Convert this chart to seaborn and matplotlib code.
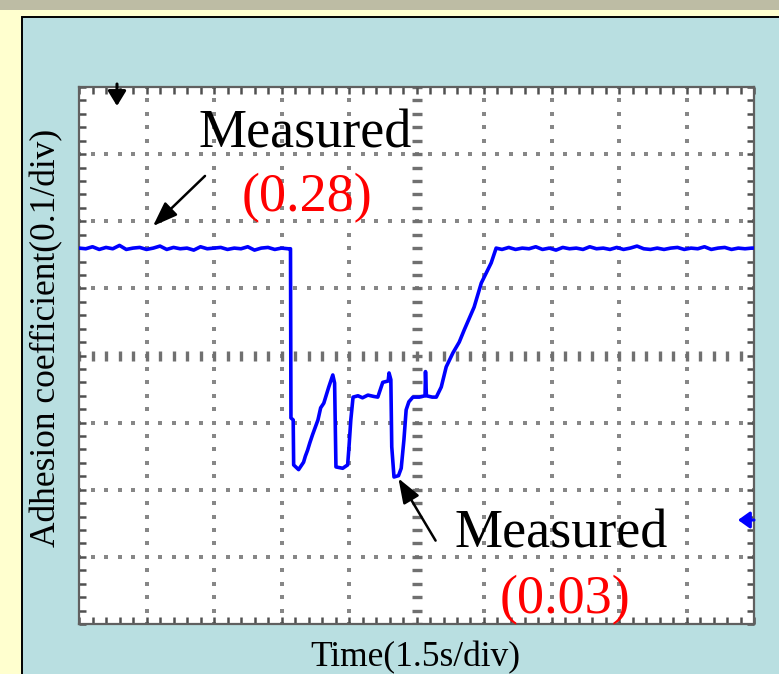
import numpy as np
import pandas as pd
import matplotlib
matplotlib.use("Agg")
import matplotlib.pyplot as plt
from matplotlib.patches import Rectangle
import seaborn as sns

# ---------------- data ----------------
time_s = [
    0.00, 0.15, 0.30, 0.45, 0.60, 0.75, 0.90, 1.05, 1.20, 1.35, 1.50, 1.65,
    1.80, 1.95, 2.10, 2.25, 2.40, 2.55, 2.70, 2.85, 3.00, 3.15, 3.30, 3.45,
    3.60, 3.75, 3.90, 4.05, 4.20, 4.35, 4.50, 4.65,
    4.70, 4.71, 4.76, 4.77, 4.88, 4.99, 5.03, 5.08, 5.13, 5.19, 5.25, 5.31,
    5.37, 5.44, 5.50, 5.55, 5.64, 5.68, 5.71, 5.86, 5.97, 6.00, 6.04, 6.09,
    6.20, 6.30, 6.42, 6.55, 6.64, 6.70, 6.75, 6.87, 6.89, 6.93, 6.95, 7.00,
    7.10, 7.16, 7.22, 7.27, 7.33, 7.42, 7.56, 7.69, 7.70, 7.72, 7.85, 7.94,
    8.05, 8.16, 8.31, 8.45, 8.56, 8.67, 8.78, 8.94, 9.05, 9.16, 9.27,
    9.40, 9.55, 9.70, 9.85, 10.00, 10.15, 10.30, 10.45, 10.60, 10.75, 10.90,
    11.05, 11.20, 11.35, 11.50, 11.65, 11.80, 11.95, 12.10, 12.25, 12.40,
    12.55, 12.70, 12.85, 13.00, 13.15, 13.30, 13.45, 13.60, 13.75, 13.90,
    14.05, 14.20, 14.35, 14.50, 14.65, 14.80, 14.95, 15.00,
]
adhesion = [
    0.560, 0.559, 0.562, 0.558, 0.561, 0.559, 0.564, 0.558, 0.560, 0.561, 0.558, 0.560,
    0.563, 0.558, 0.561, 0.559, 0.560, 0.557, 0.562, 0.559, 0.560, 0.561, 0.558, 0.560,
    0.559, 0.562, 0.557, 0.560, 0.561, 0.558, 0.560, 0.559,
    0.559, 0.307, 0.304, 0.237, 0.230, 0.241, 0.250, 0.259, 0.270, 0.282, 0.293, 0.304,
    0.322, 0.329, 0.342, 0.353, 0.371, 0.359, 0.234, 0.232, 0.237, 0.264, 0.304, 0.338,
    0.340, 0.337, 0.341, 0.339, 0.338, 0.350, 0.360, 0.362, 0.374, 0.364, 0.264, 0.219,
    0.221, 0.232, 0.274, 0.319, 0.331, 0.338, 0.338, 0.340, 0.376, 0.340, 0.338, 0.338,
    0.353, 0.383, 0.404, 0.420, 0.438, 0.455, 0.472, 0.508, 0.523, 0.538, 0.560,
    0.558, 0.561, 0.558, 0.560, 0.559, 0.562, 0.558, 0.560, 0.557, 0.561, 0.559,
    0.560, 0.558, 0.562, 0.559, 0.560, 0.558, 0.561, 0.558, 0.560, 0.563,
    0.559, 0.558, 0.560, 0.558, 0.560, 0.561, 0.558, 0.560, 0.559, 0.562,
    0.558, 0.560, 0.561, 0.558, 0.560, 0.559, 0.560, 0.560,
]
x_label = "Time(1.5s/div)"
y_label = "Adhesion coefficient(0.1/div)"
notes = ["Measured", "(0.28)", "Measured", "(0.03)"]

df = pd.DataFrame({"t": time_s, "mu": adhesion})

# ---------------- figure ----------------
W, H = 779, 674
fig = plt.figure(figsize=(W / 100, H / 100), dpi=100)
fig.patch.set_facecolor("#FFFFCF")

def px_rect(x0, y0, x1, y1, **kw):
    r = Rectangle((x0 / W, 1 - y1 / H), (x1 - x0) / W, (y1 - y0) / H,
                  transform=fig.transFigure, **kw)
    fig.add_artist(r)

px_rect(0, 0, W, 10, facecolor="#BDBCA4", edgecolor="none", zorder=-10)
px_rect(22, 16.5, W + 5, H + 5, facecolor="#B9DFE1", edgecolor="black", linewidth=1.4,
        zorder=-9)

ax = fig.add_axes([79 / W, 1 - 624 / H, 675 / W, 537 / H])
ax.set_zorder(2)
ax.set_facecolor("white")
ax.set_xlim(0, 15)
ax.set_ylim(0, 0.8)

# graticule dots
grid_c = "#878787"
xs_minor = np.arange(0, 15.001, 0.3)
ys_minor = np.arange(0, 0.8001, 0.02)
for gx in np.arange(1.5, 15, 1.5):
    if abs(gx - 7.5) < 1e-6:
        continue
    ax.scatter(np.full_like(ys_minor, gx), ys_minor, s=6, marker="s", color=grid_c,
               linewidths=0, zorder=1)
for gy in np.arange(0.1, 0.8, 0.1):
    if abs(gy - 0.4) < 1e-6:
        continue
    ax.scatter(xs_minor, np.full_like(xs_minor, gy), s=6, marker="s", color=grid_c,
               linewidths=0, zorder=1)
# center cross ticks
ax.plot(np.full_like(ys_minor, 7.5), ys_minor, linestyle="none", marker="_",
        markersize=7, markeredgewidth=2.4, color="#707070", zorder=1)
ax.plot(xs_minor, np.full_like(xs_minor, 0.4), linestyle="none", marker="|",
        markersize=7, markeredgewidth=2.4, color="#707070", zorder=1)

# trace
sns.lineplot(data=df, x="t", y="mu", ax=ax, estimator=None, sort=False,
             color="#0000FF", linewidth=2.6, zorder=3)

# border ticks
ax.set_xticks(np.arange(0, 15.001, 1.5))
ax.set_yticks(np.arange(0, 0.8001, 0.1))
ax.set_xticks(xs_minor, minor=True)
ax.set_yticks(ys_minor, minor=True)
ax.tick_params(which="both", direction="in", length=5, width=1.8, color="#505050",
               top=True, right=True, bottom=True, left=True,
               labelbottom=False, labelleft=False)
for sp in ax.spines.values():
    sp.set_color("#606060")
    sp.set_linewidth(1.6)
ax.set_xlabel("")
ax.set_ylabel("")

# markers: trigger and ground
def pxx(x):
    return (x - 79) / 675 * 15
def pxy(y):
    return (624 - y) / 537 * 0.8

ax.annotate("", xy=(pxx(117), pxy(106)), xytext=(pxx(117), pxy(84)),
            arrowprops=dict(arrowstyle="-|>,head_width=0.55,head_length=0.9",
                            color="black", lw=2.2, shrinkA=0, shrinkB=0),
            zorder=4, annotation_clip=False)
ax.annotate("", xy=(pxx(738), pxy(520)), xytext=(pxx(754), pxy(520)),
            arrowprops=dict(arrowstyle="-|>,head_width=0.5,head_length=0.7",
                            color="#0000FF", lw=2.2, shrinkA=0, shrinkB=0),
            zorder=4, annotation_clip=False)

serif = ["Liberation Serif", "DejaVu Serif"]
fs = 39

ax.text(pxx(198), pxy(147), notes[0], family=serif, fontsize=fs, color="black",
        ha="left", va="baseline", zorder=5)
ax.text(pxx(242), pxy(211), notes[1], family=serif, fontsize=fs, color="red",
        ha="left", va="baseline", zorder=5)
ax.text(pxx(455), pxy(548), notes[2], family=serif, fontsize=fs, color="black",
        ha="left", va="baseline", zorder=5)
ax.text(pxx(500), pxy(613), notes[3], family=serif, fontsize=fs, color="red",
        ha="left", va="baseline", zorder=5)

arrow_kw = dict(arrowstyle="-|>,head_width=0.55,head_length=1.5", color="black", lw=1.8)
ax.annotate("", xy=(pxx(151), pxy(228)), xytext=(pxx(207), pxy(174)),
            arrowprops=arrow_kw, zorder=5)
ax.annotate("", xy=(pxx(397), pxy(476)), xytext=(pxx(437), pxy(543)),
            arrowprops=arrow_kw, zorder=5)

# axis titles
fig.text(415 / W, 1 - 666 / H, x_label, family=serif, fontsize=25.5, color="black",
         ha="center", va="baseline")
fig.text(47 / W, 1 - 338 / H, y_label, family=serif, fontsize=25.5, color="black",
         ha="center", va="center", rotation=90)

fig.savefig("out.png", dpi=100, facecolor=fig.get_facecolor())
